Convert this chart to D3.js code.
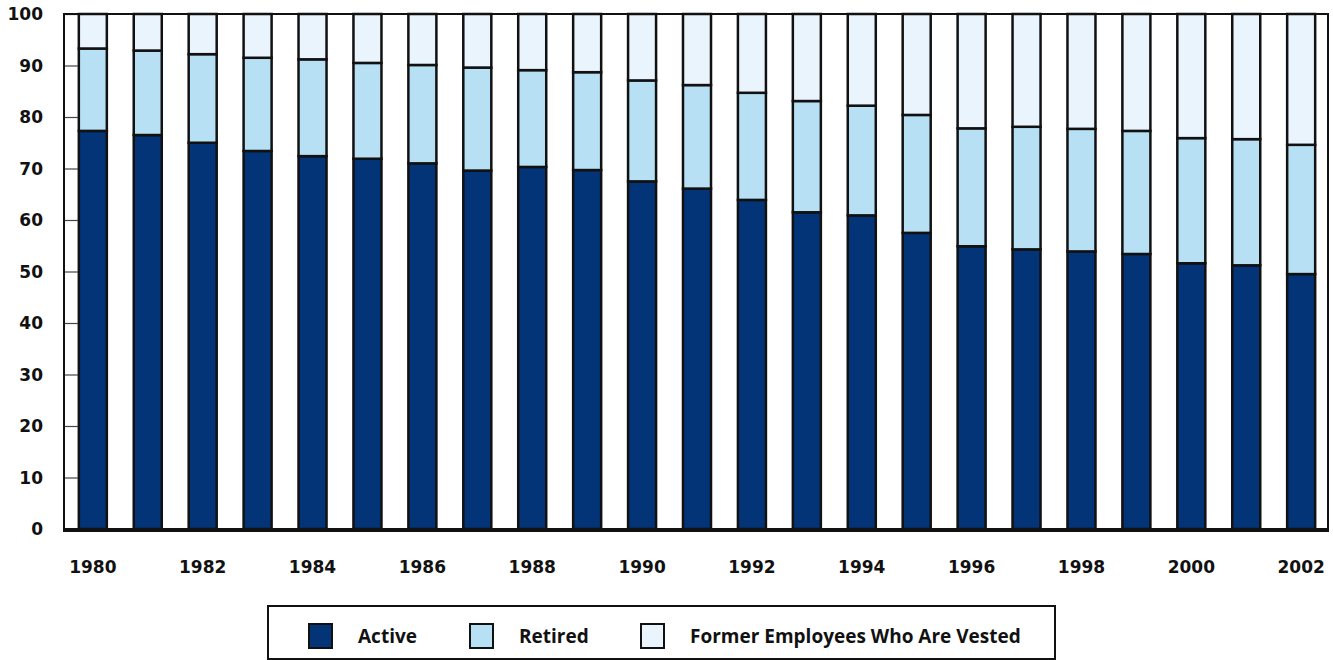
<!DOCTYPE html>
<html>
<head>
<meta charset="utf-8">
<script src="https://cdn.jsdelivr.net/npm/d3@7"></script>
<style>
  body { margin: 0; background: #fff; }
  text { font-family: "DejaVu Sans", sans-serif; font-weight: bold; fill: #111; }
  .legend text { font-family: "Open Sans", sans-serif; font-weight: 700; }
</style>
</head>
<body>
<div id="chart"></div>
<script>
// data (percent of participants)
const years = [1980, 1981, 1982, 1983, 1984, 1985, 1986, 1987, 1988, 1989, 1990, 1991,
               1992, 1993, 1994, 1995, 1996, 1997, 1998, 1999, 2000, 2001, 2002];
const active = [77.3, 76.5, 75.0, 73.4, 72.4, 71.9, 71.0, 69.6, 70.3, 69.7, 67.5, 66.1,
                63.9, 61.5, 60.9, 57.5, 54.9, 54.3, 53.9, 53.4, 51.6, 51.2, 49.5];
const retired = [16.0, 16.4, 17.2, 18.1, 18.8, 18.6, 19.1, 20.0, 18.8, 19.0, 19.6, 20.1,
                 20.8, 21.6, 21.3, 22.9, 22.9, 23.8, 23.8, 23.9, 24.3, 24.5, 25.1];
const vested = [6.7, 7.1, 7.8, 8.5, 8.8, 9.5, 9.9, 10.4, 10.9, 11.3, 12.9, 13.8,
                15.3, 16.9, 17.8, 19.6, 22.2, 21.9, 22.3, 22.7, 24.1, 24.3, 25.4];
const seriesNames = ["Active", "Retired", "Former Employees Who Are Vested"];
const yTicks = [0, 10, 20, 30, 40, 50, 60, 70, 80, 90, 100];
const xLabels = [1980, 1982, 1984, 1986, 1988, 1990, 1992, 1994, 1996, 1998, 2000, 2002];

const colors = ["#023477", "#b7e0f5", "#e9f4fd"];

const W = 1333, H = 660;
const plot = { left: 64, right: 1328, top: 14, bottom: 529 };

const svg = d3.select("#chart").append("svg")
    .attr("width", W)
    .attr("height", H);

// build rows for the stack
const rows = years.map((y, i) => ({ year: y, a: active[i], r: retired[i], v: vested[i] }));
const stacked = d3.stack().keys(["a", "r", "v"])(rows);

const x = d3.scaleBand()
    .domain(years)
    .range([plot.left, plot.right + 2])
    .paddingInner(0.49)
    .paddingOuter(0.27);

const y = d3.scaleLinear()
    .domain([0, 100])
    .range([plot.bottom, plot.top]);

// bars
svg.append("g")
  .selectAll("g")
  .data(stacked)
  .join("g")
    .attr("fill", (d, i) => colors[i])
  .selectAll("rect")
  .data(d => d)
  .join("rect")
    .attr("x", d => x(d.data.year))
    .attr("y", d => y(d[1]))
    .attr("width", x.bandwidth())
    .attr("height", d => y(d[0]) - y(d[1]))
    .attr("stroke", "#111")
    .attr("stroke-width", 2.5);

// y axis: inward ticks, labels on the left
const yAxis = svg.append("g")
    .attr("transform", `translate(${plot.left},0)`)
    .call(d3.axisRight(y).tickValues(yTicks).tickSize(14).tickFormat(""));
yAxis.select(".domain").remove();
yAxis.selectAll("line").attr("stroke", "#444").attr("stroke-width", 1.2);

svg.append("g")
  .selectAll("text")
  .data(yTicks)
  .join("text")
    .attr("x", 43)
    .attr("y", d => y(d))
    .attr("dy", "0.36em")
    .attr("text-anchor", "end")
    .attr("font-size", 17)
    .text(d => d);

// x labels (every other year)
svg.append("g")
  .selectAll("text")
  .data(xLabels)
  .join("text")
    .attr("x", d => x(d) + x.bandwidth() / 2)
    .attr("y", 573)
    .attr("text-anchor", "middle")
    .attr("font-size", 17)
    .text(d => d);

// frame
svg.append("path")
    .attr("d", `M${plot.left},${plot.bottom}V${plot.top}H${plot.right}V${plot.bottom}`)
    .attr("fill", "none")
    .attr("stroke", "#111")
    .attr("stroke-width", 2);
svg.append("line")
    .attr("x1", plot.left - 1).attr("x2", plot.right + 1)
    .attr("y1", plot.bottom + 1).attr("y2", plot.bottom + 1)
    .attr("stroke", "#111")
    .attr("stroke-width", 4);

// legend
const legend = svg.append("g").attr("class", "legend");
legend.append("rect")
    .attr("x", 268).attr("y", 606)
    .attr("width", 787).attr("height", 53)
    .attr("fill", "#fff")
    .attr("stroke", "#111")
    .attr("stroke-width", 2);

const legendX = [309, 470, 641];
const item = legend.selectAll("g.item")
  .data(seriesNames)
  .join("g")
    .attr("class", "item")
    .attr("transform", (d, i) => `translate(${legendX[i]},624)`);
item.append("rect")
    .attr("width", 23).attr("height", 24)
    .attr("fill", (d, i) => colors[i])
    .attr("stroke", "#111")
    .attr("stroke-width", 2);
item.append("text")
    .attr("x", 49)
    .attr("y", 19)
    .attr("font-size", 19)
    .text(d => d);
</script>
</body>
</html>
